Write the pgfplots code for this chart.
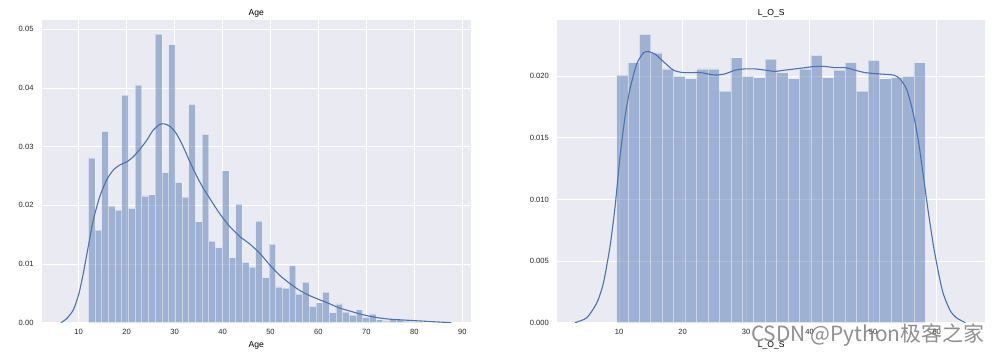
\documentclass[border=0pt]{standalone}
\usepackage{fontspec}
\setmainfont{Liberation Sans}
\newfontfamily\cjk{Noto Sans CJK SC}
\usepackage{pgfplots}
\pgfplotsset{compat=1.18}
\definecolor{bgc}{HTML}{EAEAF2}
\definecolor{snsblue}{HTML}{4C72B0}
\pgfplotsset{
  sns/.style={
    scale only axis,
    anchor=south west,
    axis background/.style={fill=bgc},
    axis line style={draw=none},
    grid=major,
    major grid style={white, line width=0.9bp},
    major tick length=0pt,
    tick style={draw=none},
    ymin=0,
    scaled y ticks=false,
    /pgf/number format/assume math mode=true,
    ticklabel style={font=\fontsize{7.6}{9}\selectfont, text=black!85},
    xticklabel style={yshift=-3bp},
    yticklabel style={xshift=-5bp},
    title style={font=\fontsize{8.6}{10}\selectfont, yshift=-6.5bp},
    xlabel style={font=\fontsize{8.6}{10}\selectfont, yshift=-0.5bp},
  },
  histbar/.style={ybar interval, fill=snsblue, fill opacity=0.47, draw=white, draw opacity=0.45, line width=0.7bp},
  kde/.style={snsblue, line width=1.1bp, smooth, tension=0.4, mark=none},
}
\begin{document}
\begin{tikzpicture}
\path[use as bounding box] (0,0) rectangle (994bp,357bp);
\begin{axis}[sns,
  at={(42bp,34.3bp)}, width=428.7bp, height=302.7bp,
  xmin=2.35, xmax=91.75, ymax=0.0516,
  xtick={10,20,...,90},
  ytick={0,0.01,0.02,0.03,0.04,0.05},
  yticklabel style={/pgf/number format/.cd, fixed, fixed zerofill, precision=2},
  title={Age}, xlabel={Age}]
\addplot[histbar] coordinates {
(12.000,0.0281) (13.396,0.0158) (14.792,0.0326) (16.188,0.0199) (17.584,0.0192)
(18.980,0.0388) (20.376,0.0195) (21.772,0.0405) (23.168,0.0216) (24.564,0.0218)
(25.960,0.0492) (27.356,0.0256) (28.752,0.0474) (30.148,0.0239) (31.544,0.0214)
(32.940,0.0372) (34.336,0.0172) (35.732,0.0321) (37.128,0.0139) (38.524,0.0128)
(39.920,0.0259) (41.316,0.0111) (42.712,0.0202) (44.108,0.0103) (45.504,0.0095)
(46.900,0.0173) (48.296,0.0077) (49.692,0.0134) (51.088,0.0061) (52.484,0.0059)
(53.880,0.0097) (55.276,0.0049) (56.672,0.0069) (58.068,0.0028) (59.464,0.0034)
(60.860,0.0052) (62.256,0.0017) (63.652,0.0032) (65.048,0.0018) (66.444,0.0013)
(67.840,0.0022) (69.236,0.0009) (70.632,0.0015) (72.028,0.0005) (73.424,0.0003)
(74.820,0.0005) (76.216,0.0005) (77.612,0.0003) (79.008,0.0002) (80.404,0.0001)
(81.800,0.0001)
};
\addplot[kde] coordinates {
(6.3,0.0000) (7.5,0.0007) (8.9,0.0022) (10.06,0.0050) (10.96,0.0084) (12.0,0.0130)
(13.04,0.0175) (14.4,0.0215) (15.8,0.0243) (17.2,0.0260) (18.6,0.0269) (20.0,0.0274)
(21.4,0.0283) (22.8,0.0296) (24.2,0.0311) (25.5,0.0328) (26.9,0.0338) (27.8,0.0339)
(29.0,0.0335) (30.4,0.0322) (31.8,0.0300) (33.2,0.0274) (34.6,0.0250) (36.0,0.0229)
(37.4,0.0211) (39.4,0.0186) (41.5,0.0164) (43.6,0.0147) (45.7,0.0134) (47.8,0.0118)
(49.9,0.0098) (51.9,0.0081) (54.0,0.0067) (56.1,0.0055) (58.2,0.0046) (60.3,0.0039)
(62.4,0.0032) (64.4,0.0025) (66.5,0.0020) (68.6,0.0015) (70.7,0.0011) (72.8,0.0008)
(74.9,0.0006) (76.9,0.0005) (79.0,0.0004) (81.1,0.0003) (83.2,0.0002) (85.5,0.0001)
(87.7,0.0000)
};
\end{axis}
\begin{axis}[sns,
  at={(557.3bp,34.3bp)}, width=427.7bp, height=302.7bp,
  xmin=0.28, xmax=67.6, ymax=0.02457,
  xtick={10,20,...,60},
  ytick={0,0.005,0.010,0.015,0.020},
  yticklabel style={/pgf/number format/.cd, fixed, fixed zerofill, precision=3},
  title={L\_O\_S}, xlabel={L\_O\_S}]
\addplot[histbar] coordinates {
(9.6,0.0201) (11.4,0.0211) (13.2,0.0234) (15.0,0.0219) (16.8,0.0206) (18.6,0.0200)
(20.4,0.0198) (22.2,0.0206) (24.0,0.0206) (25.8,0.0188) (27.6,0.0215) (29.4,0.0200)
(31.2,0.0199) (33.0,0.0214) (34.8,0.0203) (36.6,0.0198) (38.4,0.0206) (40.2,0.0217)
(42.0,0.0199) (43.8,0.0205) (45.6,0.0211) (47.4,0.0188) (49.2,0.0213) (51.0,0.0198)
(52.8,0.0199) (54.6,0.0200) (56.4,0.0211) (58.2,0.0211)
};
\addplot[kde] coordinates {
(3.07,0.0000) (4.92,0.0004) (6.49,0.0016) (7.53,0.0032) (8.58,0.0062) (9.37,0.0094)
(10.16,0.0135) (10.94,0.0167) (11.73,0.0190) (12.78,0.0210) (13.83,0.0219) (14.6,0.0220)
(15.67,0.0218) (16.97,0.0212) (18.55,0.0205) (20.12,0.0203) (22.75,0.0203) (25.1,0.0201)
(26.7,0.0202) (28.3,0.0205) (29.8,0.0206) (31.4,0.0206) (33.0,0.0205) (34.55,0.0204)
(36.1,0.0205) (37.7,0.0206) (39.3,0.0207) (40.85,0.0208) (42.4,0.0208) (44.0,0.0207)
(45.6,0.0207) (47.1,0.0205) (48.7,0.0203) (50.8,0.0202) (53.2,0.0201) (54.2,0.0198)
(55.3,0.0189) (56.3,0.0170) (57.1,0.0148) (57.9,0.0119) (58.7,0.0089) (59.5,0.0062)
(60.3,0.0040) (61.0,0.0024) (62.1,0.0010) (63.1,0.0004) (64.5,0.0000)
};
\end{axis}
\node[anchor=base west, inner sep=0pt, text=black!55, opacity=0.8, font=\cjk\fontsize{21}{24}\selectfont] at (751bp,16bp) {CSDN @Python极客之家};
\end{tikzpicture}
\end{document}
